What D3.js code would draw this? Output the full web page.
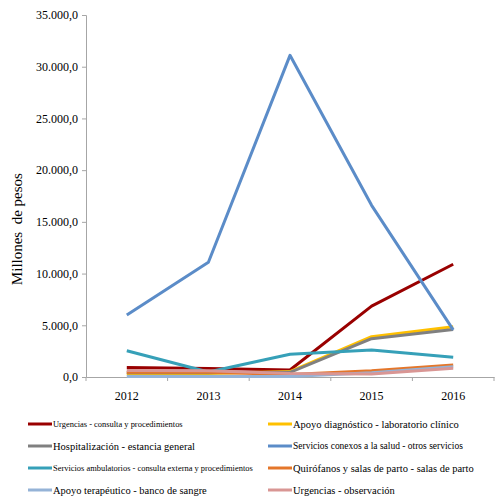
<!DOCTYPE html>
<html><head><meta charset="utf-8">
<script src="https://cdn.jsdelivr.net/npm/d3@7"></script>
<style>body{margin:0;background:#fff}svg{display:block}svg text{font-family:"Times New Roman","Liberation Serif",serif}</style>
</head><body><svg id="c" width="495" height="497"></svg>
<script>
const years = ["2012","2013","2014","2015","2016"];
const yTicks = [0,5000,10000,15000,20000,25000,30000,35000];
const seriesNames = [
  "Urgencias - consulta y procedimientos",
  "Apoyo diagnóstico - laboratorio clínico",
  "Hospitalización - estancia general",
  "Servicios conexos a la salud - otros servicios",
  "Servicios ambulatorios - consulta externa y procedimientos",
  "Quirófanos y salas de parto - salas de parto",
  "Apoyo terapéutico - banco de sangre",
  "Urgencias - observación"
];
const urgConsulta   = [920, 820, 680, 6850, 10900];
const apoyoDiag     = [300, 330, 520, 3900, 4850];
const hospital      = [420, 420, 450, 3700, 4600];
const servConexos   = [6000, 11100, 31100, 16600, 4550];
const servAmbul     = [2540, 480, 2200, 2600, 1900];
const quirofanos    = [450, 450, 250, 600, 1150];
const apoyoTerap    = [40, 40, 60, 420, 1000];
const urgObserv     = [620, 600, 350, 290, 840];
const seriesValues = [urgConsulta, apoyoDiag, hospital, servConexos, servAmbul, quirofanos, apoyoTerap, urgObserv];
const colors = ["#990000","#FFC000","#808080","#5B8CC8","#36A0B8","#E4762A","#95B3D7","#D99694"];
const legendWidth = [130, 166, 142, 170, 200, 181, 154, 102];

const svg = d3.select("#c");
const m = {l:86, r:1, t:15, b:120};
const W = 495, H = 497;
const x = d3.scaleBand().domain(years).range([m.l, W - m.r]);
const y = d3.scaleLinear().domain([0,35000]).range([377, 15]);

const fmt = v => d3.format(",.1f")(v).replace(/,/g,"#").replace(".",",").replace(/#/g,".");

// y axis
const ya = svg.append("g").attr("transform",`translate(${m.l},0)`)
  .call(d3.axisLeft(y).tickValues(yTicks).tickFormat(fmt).tickSize(4).tickPadding(4));
ya.attr("font-family",null);
ya.selectAll("path,line").attr("stroke","#a6a6a6");
ya.selectAll("text").attr("font-size",12).attr("fill","#000");

// x axis
const xa = svg.append("g").attr("transform",`translate(0,${y(0)})`)
  .call(d3.axisBottom(x).tickSize(0).tickPadding(14));
xa.attr("font-family",null);
xa.select("path").attr("stroke","#a6a6a6");
xa.selectAll("text").attr("font-size",12).attr("fill","#000");
const bounds = years.map(d => x(d)).concat([x.range()[1]]);
xa.selectAll("line.b").data(bounds).enter().append("line").attr("class","b")
  .attr("x1",d=>d).attr("x2",d=>d).attr("y1",0).attr("y2",4).attr("stroke","#a6a6a6");

// y title
svg.append("text").attr("transform",`translate(22,${y(14300)}) rotate(-90)`)
  .attr("text-anchor","middle").attr("font-size",15)
  .attr("xml:space","preserve").text("Millones  de pesos");

// lines
const line = d3.line().x((d,i)=>x(years[i]) + x.bandwidth()/2).y(d=>y(d));
seriesValues.forEach((vals,i)=>{
  svg.append("path").datum(vals).attr("d",line).attr("fill","none")
    .attr("stroke",colors[i]).attr("stroke-width",3).attr("stroke-linejoin","round");
});

// legend
const lg = svg.append("g");
seriesNames.forEach((n,i)=>{
  const col = i%2, row = Math.floor(i/2);
  const gx = col ? 268 : 28, gy = 424 + row*22;
  lg.append("line").attr("x1",gx).attr("x2",gx+24).attr("y1",gy).attr("y2",gy)
    .attr("stroke",colors[i]).attr("stroke-width",3);
  const t = lg.append("text").attr("x",gx+25).attr("y",gy).attr("dy","0.35em")
    .attr("font-size",12).text(n);
  const w = t.node().getComputedTextLength();
  t.attr("font-size", Math.min(14, 12*legendWidth[i]/w));
});
</script></body></html>
